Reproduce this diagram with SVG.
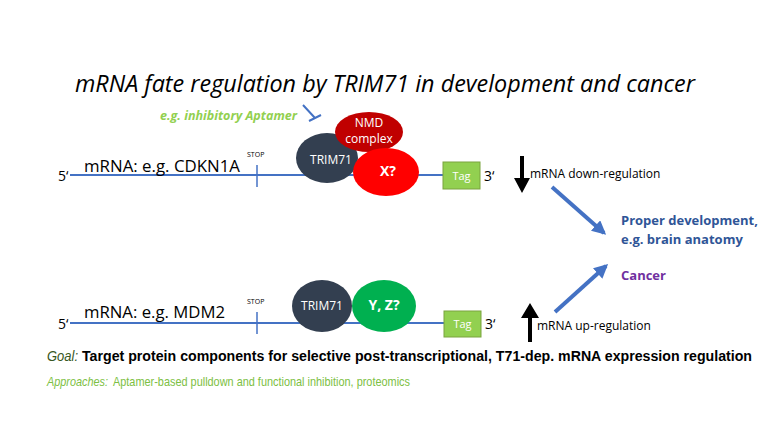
<svg xmlns="http://www.w3.org/2000/svg" width="768" height="432" viewBox="0 0 768 432">
<defs>
<style>
text{font-family:"Open Sans","Liberation Sans",sans-serif}
.nar{font-family:"Liberation Sans Narrow","Liberation Sans",sans-serif}
.mrna{stroke:#4472C4;stroke-width:2;fill:none}
.tick{stroke:#4472C4;stroke-width:1.5}
.lbl{font-size:17px;fill:#000}
.stop{font-size:7px;fill:#000}
.prime{font-size:14px;fill:#000}
.w{fill:#fff;text-anchor:middle}
.tag{fill:#92D050;stroke:#7AA33F;stroke-width:1}
.blue{stroke:#4472C4;stroke-width:4;fill:none}
.small{font-size:12px;fill:#000}
</style>
<marker id="bh" viewBox="0 0 10 10" refX="8" refY="5" markerWidth="3.5" markerHeight="3.5" orient="auto" markerUnits="strokeWidth">
<path d="M0,0 L10,5 L0,10 z" fill="#4472C4"/>
</marker>
</defs>
<rect width="768" height="432" fill="#fff"/>
<text x="385" y="92" text-anchor="middle" font-size="24" font-style="italic" fill="#000" textLength="620" lengthAdjust="spacingAndGlyphs">mRNA fate regulation by TRIM71 in development and cancer</text>
<g id="aptamer">
<text x="160" y="120" font-size="12" font-weight="bold" font-style="italic" fill="#92D050" textLength="137" lengthAdjust="spacingAndGlyphs">e.g. inhibitory Aptamer</text>
<path d="M303,105 L315,118 M309,121 L321,115" stroke="#4472C4" stroke-width="2" fill="none"/>
</g>
<g id="connectors">
<line class="mrna" x1="70" y1="175" x2="443" y2="175"/>
<line class="tick" x1="257" y1="165" x2="257" y2="187"/>
<line class="mrna" x1="70" y1="323" x2="444" y2="323"/>
<line class="tick" x1="257" y1="312" x2="257" y2="334"/>
<line class="blue" x1="552" y1="187" x2="604" y2="233" marker-end="url(#bh)"/>
<line class="blue" x1="555" y1="312" x2="606" y2="266" marker-end="url(#bh)"/>
<path d="M520,156 h4 v22 h6 l-8,15 l-8,-15 h6 z" fill="#000"/>
<path d="M528,342 h4 v-24 h7 l-9,-15 l-9,15 h7 z" fill="#000"/>
</g>
<g id="mrna-top">
<text x="58" y="181" class="prime">5‘</text>
<text x="84" y="172" class="lbl" textLength="156" lengthAdjust="spacingAndGlyphs">mRNA: e.g. CDKN1A</text>
<text x="247" y="157" class="stop">STOP</text>
</g>
<g id="trim71-top">
<ellipse cx="327" cy="158" rx="31" ry="25" fill="#333F50"/>
<text x="331" y="164" class="w" font-size="12">TRIM71</text>
</g>
<g id="nmd">
<ellipse cx="369" cy="132" rx="34" ry="20" fill="#C00000"/>
<text x="369" y="127" class="w" font-size="12">NMD</text>
<text x="369" y="143" class="w" font-size="12">complex</text>
</g>
<g id="x">
<ellipse cx="386" cy="172" rx="33" ry="24" fill="#FF0000"/>
<text x="388" y="176" class="w" font-size="14" font-weight="bold">X?</text>
</g>
<g id="tag-top">
<rect x="443" y="162" width="37" height="27" class="tag"/>
<text x="461.5" y="180" class="w" font-size="11">Tag</text>
<text x="484" y="181" class="prime">3‘</text>
</g>
<g id="down">
<text x="530" y="178" class="small">mRNA down-regulation</text>
</g>
<g id="outcome">
<text x="621" y="225" font-size="13" font-weight="bold" fill="#2F5597">Proper development,</text>
<text x="621" y="244" font-size="13" font-weight="bold" fill="#2F5597">e.g. brain anatomy</text>
<text x="621" y="280" font-size="13" font-weight="bold" fill="#7030A0">Cancer</text>
</g>
<g id="mrna-bottom">
<text x="58" y="329" class="prime">5‘</text>
<text x="84" y="318" class="lbl" textLength="141" lengthAdjust="spacingAndGlyphs">mRNA: e.g. MDM2</text>
<text x="247" y="304" class="stop">STOP</text>
</g>
<g id="trim71-bottom">
<ellipse cx="322" cy="306" rx="30" ry="26" fill="#333F50"/>
<text x="322" y="310" class="w" font-size="12">TRIM71</text>
</g>
<g id="yz">
<ellipse cx="384" cy="306" rx="32" ry="26" fill="#00B050"/>
<text x="384" y="310" class="w" font-size="14" font-weight="bold">Y, Z?</text>
</g>
<g id="tag-bottom">
<rect x="444" y="311" width="37" height="26" class="tag"/>
<text x="462.5" y="328" class="w" font-size="11">Tag</text>
<text x="485" y="329" class="prime">3‘</text>
</g>
<g id="up">
<text x="537" y="330" class="small">mRNA up-regulation</text>
</g>
<g id="goal">
<text x="47" y="361" class="nar" font-size="14" font-style="italic" fill="#385723" textLength="31" lengthAdjust="spacingAndGlyphs">Goal:</text>
<text x="82" y="361" class="nar" font-size="14" font-weight="bold" fill="#000" textLength="670" lengthAdjust="spacingAndGlyphs">Target protein components for selective post-transcriptional, T71-dep. mRNA expression regulation</text>
</g>
<g id="approaches">
<text x="47" y="386" class="nar" font-size="13" font-style="italic" fill="#7CC043" textLength="61" lengthAdjust="spacingAndGlyphs">Approaches:</text>
<text x="113" y="386" class="nar" font-size="13" fill="#7CC043" textLength="297" lengthAdjust="spacingAndGlyphs">Aptamer-based pulldown and functional inhibition, proteomics</text>
</g>
</svg>
